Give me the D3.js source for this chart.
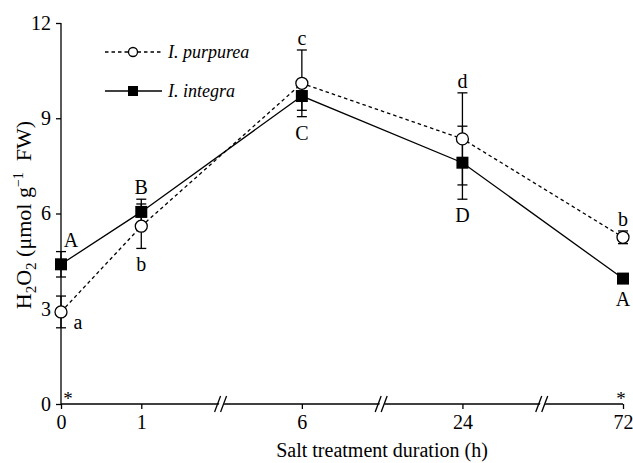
<!DOCTYPE html>
<html>
<head>
<meta charset="utf-8">
<script src="https://cdn.jsdelivr.net/npm/d3@7/dist/d3.min.js"></script>
<style>
  html, body { margin: 0; padding: 0; background: #fff; }
  svg { display: block; }
  svg text { font-family: "Liberation Serif", "Times New Roman", serif !important; fill: #000; }
</style>
</head>
<body>
<svg id="chart" width="633" height="463"></svg>
<script>
// ---- data ----
const categories = ["0", "1", "6", "24", "72"];
const yTicks = [0, 3, 6, 9, 12];
const purpurea = [2.9, 5.6, 10.1, 8.35, 5.25];
const purpureaSE = [0.5, 0.7, 1.05, 1.45, 0.2];
const integra = [4.4, 6.05, 9.7, 7.6, 3.95];
const integraSE = [0.4, 0.4, 0.45, 1.15, 0.15];
const purpureaLetters = ["a", "b", "c", "d", "b"];
const integraLetters = ["A", "B", "C", "D", "A"];
const significance = ["*", "", "", "", "*"];
const seriesNames = ["I. purpurea", "I. integra"];

// ---- layout ----
const svg = d3.select("#chart");
// broken axis: the 0->1 interval takes half a slot
const slot = [0, 0.5, 1.5, 2.5, 3.5];
const breaks = [1, 2, 3];
const xs = d3.scaleLinear().domain([0, 3.5]).range([61, 623]);
const x = d3.scaleOrdinal().domain(categories).range(slot.map(s => xs(s)));
const y = d3.scaleLinear().domain([0, 12]).range([404, 23]);

const g = svg.append("g");

// axes
const yAxis = d3.axisLeft(y).tickValues(yTicks).tickSize(5).tickPadding(5);
const yG = g.append("g").attr("transform", `translate(${xs(0)},0)`).call(yAxis);
yG.select(".domain").attr("d", `M0,${y(12)}V${y(0)}`);
yG.selectAll("text").attr("font-size", 20);

const xAxis = d3.axisBottom(xs).tickValues(slot).tickFormat((d, i) => categories[i]).tickSize(5).tickPadding(6);
const xG = g.append("g").attr("transform", `translate(0,${y(0)})`).call(xAxis);
xG.select(".domain").attr("d", `M${xs(0)},0H${xs(3.5)}`);
xG.selectAll("text").attr("font-size", 20);
g.selectAll(".domain, .tick line").attr("stroke", "#000").attr("stroke-width", 1.3);

// axis break marks
breaks.forEach(b => {
  const bx = xs(b);
  const bg = g.append("g").attr("transform", `translate(${bx},${y(0)})`);
  bg.append("polygon").attr("points", "-5,7 0,7 5,-7 0,-7").attr("fill", "#fff");
  bg.append("line").attr("x1", -7).attr("y1", 8).attr("x2", -1).attr("y2", -8).attr("stroke", "#000").attr("stroke-width", 1.3);
  bg.append("line").attr("x1", -1).attr("y1", 8).attr("x2", 5).attr("y2", -8).attr("stroke", "#000").attr("stroke-width", 1.3);
});

// axis titles
g.append("text").attr("x", 382).attr("y", 457).attr("text-anchor", "middle")
  .attr("font-size", 20).text("Salt treatment duration (h)");

const yt = g.append("text").attr("transform", "translate(31,215) rotate(-90)")
  .attr("text-anchor", "middle").attr("font-size", 22);
yt.append("tspan").text("H");
yt.append("tspan").attr("font-size", 15).attr("baseline-shift", "-5").text("2");
yt.append("tspan").text("O");
yt.append("tspan").attr("font-size", 15).attr("baseline-shift", "-5").text("2");
yt.append("tspan").text(" (\u03bcmol g");
yt.append("tspan").attr("font-size", 14).attr("baseline-shift", "8").text("\u22121");
yt.append("tspan").text("\u00a0\u00a0FW)");

// series
const series = [
  { name: seriesNames[0], values: purpurea, se: purpureaSE, dash: "3.5,3", marker: "circle" },
  { name: seriesNames[1], values: integra, se: integraSE, dash: null, marker: "square" }
];

const line = d3.line().x((d, i) => x(categories[i])).y(d => y(d));

series.forEach(s => {
  g.append("path").datum(s.values).attr("d", line).attr("fill", "none")
    .attr("stroke", "#000").attr("stroke-width", 1.3).attr("stroke-dasharray", s.dash);
});

// error bars
series.forEach(s => {
  s.values.forEach((v, i) => {
    const cx = x(categories[i]);
    const eg = g.append("g").attr("stroke", "#000").attr("stroke-width", 1.3);
    eg.append("line").attr("x1", cx).attr("x2", cx).attr("y1", y(v + s.se[i])).attr("y2", y(v - s.se[i]));
    [v + s.se[i], v - s.se[i]].forEach(e => {
      eg.append("line").attr("x1", cx - 5).attr("x2", cx + 5).attr("y1", y(e)).attr("y2", y(e));
    });
  });
});

// markers (integra first, purpurea on top)
integra.forEach((v, i) => {
  g.append("rect").attr("x", x(categories[i]) - 6).attr("y", y(v) - 6)
    .attr("width", 12).attr("height", 12).attr("fill", "#000");
});
purpurea.forEach((v, i) => {
  g.append("circle").attr("cx", x(categories[i])).attr("cy", y(v)).attr("r", 6)
    .attr("fill", "#fff").attr("stroke", "#000").attr("stroke-width", 1.3);
});

// letters
const tops = categories.map((c, i) => Math.max(purpurea[i] + purpureaSE[i], integra[i] + integraSE[i]));
const bots = categories.map((c, i) => Math.min(purpurea[i] - purpureaSE[i], integra[i] - integraSE[i]));
function addLetter(tx, ty, letter) {
  g.append("text").attr("x", tx).attr("y", ty).attr("dy", "0.35em")
    .attr("text-anchor", "middle").attr("font-size", 20).text(letter);
}
function place(letter, i, isAbove) {
  const cx = x(categories[i]);
  addLetter(cx, isAbove ? y(tops[i]) - 12 : y(bots[i]) + 16, letter);
}
purpureaLetters.forEach((l, i) => {
  if (i === 0) addLetter(x(categories[i]) + 17, y(purpurea[i]) + 10, l);
  else place(l, i, purpurea[i] > integra[i]);
});
integraLetters.forEach((l, i) => {
  if (i === 0) addLetter(x(categories[i]) + 10, y(tops[i]) - 12, l);
  else place(l, i, integra[i] > purpurea[i]);
});

// significance asterisks
significance.forEach((s, i) => {
  if (!s) return;
  const cx = x(categories[i]) + (i === 0 ? 7 : -2);
  g.append("text").attr("x", cx).attr("y", 405).attr("text-anchor", "middle")
    .attr("font-size", 19).text(s);
});

// legend
const legend = g.append("g");
series.forEach((s, k) => {
  const ly = 52 + k * 39;
  legend.append("line").attr("x1", 105).attr("x2", 162).attr("y1", ly).attr("y2", ly)
    .attr("stroke", "#000").attr("stroke-width", 1.3).attr("stroke-dasharray", s.dash);
  if (s.marker === "circle") {
    legend.append("circle").attr("cx", 133).attr("cy", ly).attr("r", 4.5)
      .attr("fill", "#fff").attr("stroke", "#000").attr("stroke-width", 1.3);
  } else {
    legend.append("rect").attr("x", 128).attr("y", ly - 5).attr("width", 10).attr("height", 10).attr("fill", "#000");
  }
  legend.append("text").attr("x", 168).attr("y", ly).attr("dy", "0.35em")
    .attr("font-size", 18).attr("font-style", "italic").text(s.name);
});
</script>
</body>
</html>
